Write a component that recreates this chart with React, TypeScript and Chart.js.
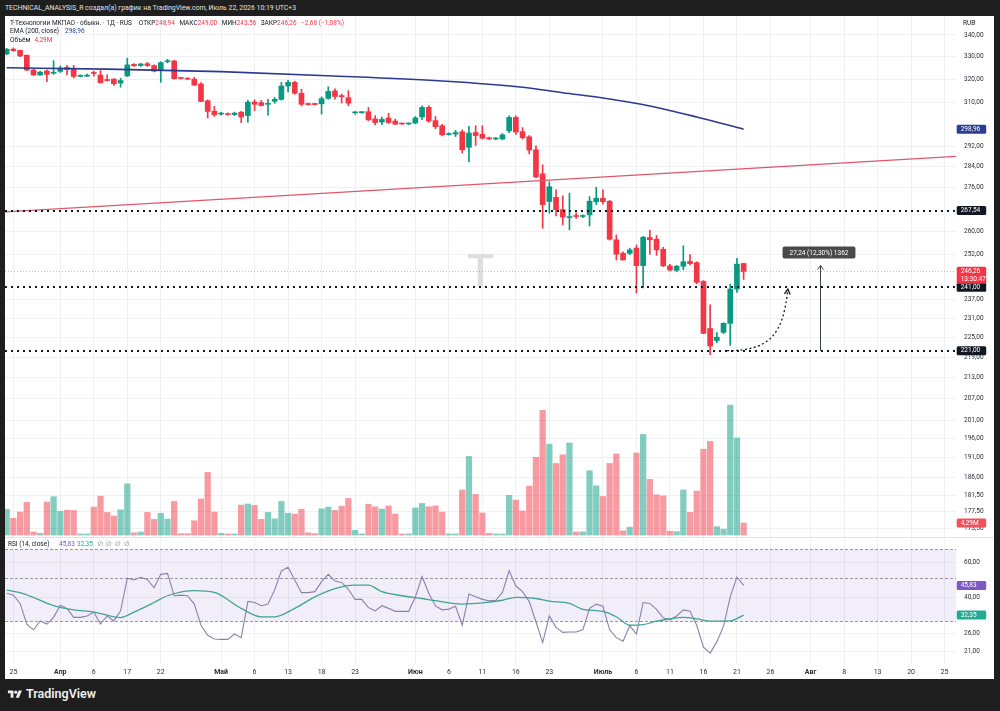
import React, { useEffect, useRef } from 'react';
import { Chart, registerables } from 'chart.js';
Chart.register(...registerables);

const FONT = 'Roboto, "Noto Sans", "DejaVu Sans", sans-serif';

// ---------------- data ----------------
const candleOpen = [331.3, 333.5, 332.9, 330.7, 324.1, 321.9, 323.7, 322.7, 323.5, 325.3,
  324.4, 321.3, 321.4, 323.0, 321.9, 319.8, 320.1, 318.4, 321.5, 326.6,
  326.1, 326.9, 326.1, 324.2, 327.8, 328.1, 320.6, 320.4, 320.1, 318.0,
  310.8, 306.4, 305.2, 305.3, 305.0, 306.0, 304.6, 310.3, 310.0, 309.3,
  310.6, 311.4, 317.1, 318.7, 314.0, 309.5, 309.4, 309.5, 311.8, 315.0,
  313.0, 312.1, 305.7, 305.8, 306.2, 303.2, 301.9, 303.6, 302.3, 301.2,
  301.1, 301.5, 304.0, 308.0, 302.5, 300.4, 296.8, 297.0, 297.9, 291.7,
  297.6, 296.9, 295.5, 295.0, 295.0, 298.3, 303.8, 298.0, 295.9, 290.7,
  281.3, 270.9, 272.4, 267.9, 265.0, 265.7, 265.4, 266.0, 270.8, 272.1,
  271.0, 257.1, 252.4, 252.4, 254.2, 248.2, 257.9, 257.3, 253.8, 248.1,
  246.6, 248.0, 249.6, 249.2, 242.9, 227.8, 224.1, 226.6, 229.4, 240.4,
  248.94];
const candleHigh = [333.9, 334.0, 333.1, 330.9, 324.4, 323.6, 324.2, 328.3, 325.9, 326.2,
  326.2, 322.0, 322.3, 323.6, 323.9, 322.0, 320.4, 320.5, 329.4, 327.0,
  327.1, 327.5, 326.4, 327.8, 328.9, 328.5, 320.9, 320.7, 320.9, 318.6,
  311.2, 308.4, 305.9, 305.7, 306.0, 306.3, 311.0, 311.2, 311.0, 311.4,
  312.2, 318.7, 319.6, 319.2, 315.7, 309.8, 309.7, 312.5, 316.8, 315.9,
  313.7, 315.1, 306.4, 306.3, 308.0, 304.6, 304.0, 305.5, 303.1, 301.5,
  301.5, 304.2, 308.7, 308.7, 304.2, 301.0, 297.5, 298.5, 298.7, 300.1,
  300.4, 300.4, 295.8, 295.6, 297.2, 304.5, 304.5, 299.6, 296.4, 292.3,
  284.8, 278.3, 275.2, 273.0, 274.0, 266.7, 266.0, 272.7, 276.2, 275.2,
  271.3, 258.8, 252.9, 254.2, 255.3, 258.3, 260.4, 258.6, 254.5, 248.6,
  248.3, 255.0, 252.0, 249.5, 243.2, 235.3, 226.5, 229.6, 242.0, 250.7,
  249.0];
const candleLow = [331.0, 332.5, 330.1, 323.8, 321.7, 321.8, 319.0, 322.2, 323.0, 321.9,
  320.6, 321.1, 321.3, 321.4, 318.3, 319.2, 317.4, 316.6, 321.3, 325.7,
  325.7, 325.7, 323.3, 318.7, 327.3, 320.1, 320.2, 319.9, 317.3, 310.4,
  303.6, 304.2, 304.8, 304.7, 304.6, 301.7, 301.9, 306.7, 308.5, 304.8,
  309.7, 311.0, 314.6, 313.6, 308.6, 308.9, 308.9, 305.2, 311.4, 311.5,
  309.8, 308.7, 305.2, 305.5, 302.5, 300.7, 300.8, 301.3, 300.9, 300.9,
  300.9, 301.2, 302.9, 301.8, 299.2, 296.2, 296.5, 296.0, 289.4, 285.9,
  292.4, 295.0, 294.8, 294.7, 294.7, 297.6, 296.8, 295.0, 289.1, 279.8,
  261.2, 266.6, 265.6, 262.4, 260.6, 264.7, 265.0, 262.0, 269.7, 269.9,
  257.0, 250.1, 250.1, 251.9, 239.1, 240.8, 252.1, 251.7, 247.9, 246.4,
  246.2, 246.8, 248.4, 242.1, 226.2, 219.8, 223.4, 226.2, 222.6, 239.3,
  243.56];
const candleClose = [333.4, 332.8, 330.4, 324.1, 321.9, 323.2, 322.2, 323.0, 325.0, 324.3,
  321.3, 321.5, 321.6, 322.6, 318.6, 319.5, 318.1, 319.5, 326.4, 326.0,
  326.8, 326.1, 323.6, 327.4, 328.1, 320.3, 320.4, 320.1, 317.5, 310.5,
  306.3, 304.9, 305.5, 305.0, 305.6, 304.0, 310.2, 309.3, 308.8, 309.6,
  311.4, 317.1, 318.7, 314.0, 309.3, 309.2, 309.2, 311.7, 314.8, 312.6,
  312.5, 309.8, 306.0, 306.0, 302.8, 301.7, 303.0, 301.7, 301.0, 301.1,
  301.3, 303.6, 308.0, 302.3, 300.0, 296.7, 297.1, 297.6, 290.7, 297.4,
  296.4, 295.3, 295.0, 295.4, 296.7, 303.8, 297.8, 295.5, 290.6, 280.1,
  269.7, 276.4, 267.9, 265.2, 265.3, 265.4, 265.7, 271.0, 272.1, 270.8,
  257.3, 252.1, 250.1, 253.6, 248.2, 258.0, 257.1, 253.6, 248.1, 246.7,
  248.0, 249.5, 248.9, 242.6, 226.3, 222.4, 225.1, 229.4, 240.4, 248.7,
  246.26];
const volumeM = [9.2, 6.0, 8.2, 11.7, 1.1, 0.6, 11.8, 13.7, 8.5, 8.9,
  8.8, 0.4, 0.4, 10.0, 13.9, 8.1, 6.8, 9.0, 18.3, 0.8,
  1.1, 8.1, 5.6, 7.8, 5.7, 12.0, 0.5, 0.5, 5.1, 12.9,
  22.4, 8.2, 0.6, 0.4, 0.4, 10.7, 11.1, 10.6, 5.6, 8.1,
  5.8, 12.0, 7.8, 7.5, 9.2, 0.8, 0.5, 9.4, 10.0, 8.8,
  10.3, 13.1, 1.7, 0.4, 11.0, 10.1, 9.3, 10.4, 7.5, 0.4,
  0.4, 9.7, 11.3, 10.1, 10.4, 8.2, 0.4, 0.4, 16.1, 28.1,
  14.5, 7.9, 0.6, 0.4, 0.4, 14.2, 12.5, 8.6, 17.5, 27.8,
  44.6, 32.5, 25.6, 28.7, 32.9, 1.1, 1.1, 23.0, 17.6, 13.8,
  25.6, 29.0, 1.5, 2.8, 29.3, 36.0, 19.9, 14.4, 14.0, 1.4,
  1.2, 16.1, 8.1, 15.7, 30.7, 33.5, 3.0, 2.1, 46.5, 34.7,
  4.29];
const rsiValues = [41.8, 40.9, 37.1, 29.1, 27.2, 30.2, 29.1, 31.5, 36.3, 35.0,
  31.5, 31.5, 32.0, 33.5, 29.1, 32.0, 30.2, 34.0, 49.9, 48.9,
  50.4, 49.2, 44.6, 52.2, 52.8, 40.6, 40.9, 40.6, 36.8, 28.7,
  25.5, 24.4, 24.3, 24.3, 25.9, 24.8, 38.0, 37.5, 36.1, 36.8,
  43.5, 54.3, 56.7, 48.9, 42.1, 42.1, 42.6, 47.9, 52.2, 48.3,
  47.5, 43.8, 38.9, 38.9, 35.3, 34.0, 36.1, 35.0, 33.8, 33.8,
  33.8, 40.0, 50.8, 41.8, 36.0, 34.4, 34.7, 35.9, 28.7, 41.4,
  40.1, 38.9, 38.3, 38.5, 42.2, 54.4, 45.5, 42.6, 37.9, 29.9,
  23.4, 32.0, 28.0, 26.4, 26.5, 26.5, 27.2, 35.0, 36.8, 35.9,
  27.2, 24.8, 23.8, 28.5, 25.9, 37.5, 37.1, 34.6, 31.3, 30.6,
  32.0, 34.4, 33.8, 28.7, 22.2, 20.7, 23.6, 28.4, 40.1, 50.6,
  45.83];
const rsiMaIdx = [0, 2, 4, 7, 10, 13, 16, 17, 19, 22, 24, 28, 31, 35, 38, 40, 43, 46, 49, 52, 54, 56, 59,
  62, 64, 68, 71, 74, 76, 79, 81, 84, 86, 89, 91, 93, 95, 97, 99, 101, 103, 105, 108, 110];
const rsiMaVal = [43.4, 42.1, 39.8, 36.1, 34.4, 33.5, 31.7, 31.4, 33.5, 37.5, 40.6, 43.1, 42.2, 35.0, 31.7, 31.7, 35.0, 40.1, 44.2, 46.0, 46.0, 42.6, 40.6,
  39.3, 38.3, 36.8, 37.3, 38.5, 39.8, 39.3, 38.1, 37.1, 34.6, 33.8, 31.7, 28.7, 28.9, 30.1, 30.9, 31.5, 30.9, 30.1, 30.2, 32.35];
const emaIdx = [0, 15, 32, 48, 65, 77, 83, 89, 96, 103, 110];
const emaVal = [325.1, 324.5, 323.4, 321.6, 319.3, 316.6, 314.2, 312.0, 308.6, 304.0, 298.96];
const trendIdx = [-0.25, 141.7];
const trendVal = [267.1, 288.1];
const levelLines = [267.54, 241.0, 221.0];
const measureIdx = 121.4;
const measureFrom = 221.0;
const measureTo = 248.24;
const measureLabel = '27,24 (12,30%) 1362';
const projIdx = [107.5, 113.9, 115.9, 116.6];
const projVal = [221.0, 221.0, 225.8, 240.4];
const countdown = '13:30:47';
const changeText = '−2,68 (−1,08%)';

const priceTicks = [340, 330, 320, 310, 292, 284, 276, 260, 252, 237, 231, 225, 219, 213, 207, 201, 196, 191, 186, 181.5, 177.5, 173.5];
const rsiTicks = [60, 40, 26, 21];
const rsiBands = [70, 50, 30];
const xTickIdx = [1, 8, 13, 18, 23, 32, 37, 42, 47, 52, 61, 66, 71, 76, 81, 89, 94, 99, 104, 109, 114, 120, 125, 130, 135, 140];
const xTickLabels = ['25', 'Апр', '6', '17', '22', 'Май', '6', '13', '18', '23', 'Июн', '6', '11', '16', '23', 'Июль', '6', '11', '16', '21', '26', 'Авг', '8', '13', '20', '25'];
const monthNames = ['Апр', 'Май', 'Июн', 'Июль', 'Авг'];

// view ranges
const X_MIN = -0.254, X_MAX = 141.7;
const PRICE_MIN = 171.4, PRICE_MAX = 348.9;
const VOL_MIN = -0.7, VOL_MAX = 185.6;
const RSI_MIN = 18.2, RSI_MAX = 79.1;

const UP = '#089981', DOWN = '#f23645';
const UP_V = 'rgba(8,153,129,0.5)', DOWN_V = 'rgba(242,54,69,0.5)';
const GRID = '#eef0f4';
const TXT = '#2a2e39';

const fmt = (v: number) => v.toFixed(2).replace('.', ',');
const xLabel = (v: number) => { const k = xTickIdx.indexOf(v); return k >= 0 ? xTickLabels[k] : ''; };

function drawTag(ctx: CanvasRenderingContext2D, x0: number, yc: number, lines: string[], bg: string) {
  const lh = 8;
  const h = lines.length * lh + 1;
  const top = lines.length === 1 ? yc - h / 2 : yc - lh / 2 - 0.5;
  ctx.fillStyle = bg;
  ctx.beginPath();
  (ctx as any).roundRect(x0, top, 29.5, h, 1.5);
  ctx.fill();
  ctx.fillStyle = '#ffffff';
  ctx.font = `6.5px ${FONT}`;
  ctx.textAlign = 'left';
  ctx.textBaseline = 'middle';
  lines.forEach((t, k) => ctx.fillText(t, x0 + 4, top + lh / 2 + 0.5 + k * lh));
}

const pricePlugin = {
  id: 'pricePane',
  beforeDatasetsDraw(chart: any) {
    const { ctx, chartArea: a } = chart;
    ctx.save();
    ctx.fillStyle = '#dedede';
    ctx.font = `500 44px ${FONT}`;
    ctx.textAlign = 'center';
    ctx.textBaseline = 'middle';
    ctx.fillText('T', (a.left + a.right) / 2, (a.top + a.bottom) / 2 - 2);
    ctx.restore();
  },
  afterDatasetsDraw(chart: any) {
    const { ctx, chartArea: a } = chart;
    const x = chart.scales.x, y = chart.scales.y;
    ctx.save();
    const last = candleClose[candleClose.length - 1];
    const yl = Math.round(y.getPixelForValue(last)) + 0.5;
    ctx.strokeStyle = 'rgba(242,54,69,0.45)';
    ctx.lineWidth = 1;
    ctx.setLineDash([1, 2]);
    ctx.beginPath(); ctx.moveTo(a.left, yl); ctx.lineTo(a.right, yl); ctx.stroke();
    ctx.strokeStyle = '#131722';
    ctx.lineWidth = 2;
    ctx.setLineDash([2, 4]);
    levelLines.forEach((v) => {
      const yy = Math.round(y.getPixelForValue(v));
      ctx.beginPath(); ctx.moveTo(a.left, yy); ctx.lineTo(a.right, yy); ctx.stroke();
    });
    const P = projIdx.map((ix, k) => [x.getPixelForValue(ix), y.getPixelForValue(projVal[k])]);
    ctx.lineWidth = 1.3;
    ctx.setLineDash([2, 2.5]);
    ctx.beginPath();
    ctx.moveTo(P[0][0], P[0][1]);
    ctx.bezierCurveTo(P[1][0], P[1][1], P[2][0], P[2][1], P[3][0], P[3][1]);
    ctx.stroke();
    ctx.setLineDash([]);
    const ang = Math.atan2(P[3][1] - P[2][1], P[3][0] - P[2][0]);
    ctx.beginPath();
    ctx.moveTo(P[3][0] - 6 * Math.cos(ang - 0.5), P[3][1] - 6 * Math.sin(ang - 0.5));
    ctx.lineTo(P[3][0], P[3][1]);
    ctx.lineTo(P[3][0] - 6 * Math.cos(ang + 0.5), P[3][1] - 6 * Math.sin(ang + 0.5));
    ctx.stroke();
    const mx = Math.round(x.getPixelForValue(measureIdx)) + 0.5;
    const y0 = y.getPixelForValue(measureFrom), y1 = y.getPixelForValue(measureTo);
    ctx.strokeStyle = '#3a3e48';
    ctx.lineWidth = 1;
    ctx.beginPath(); ctx.moveTo(mx, y0); ctx.lineTo(mx, y1); ctx.stroke();
    ctx.beginPath(); ctx.moveTo(mx - 3, y1 + 4); ctx.lineTo(mx, y1); ctx.lineTo(mx + 3, y1 + 4); ctx.stroke();
    ctx.font = `6.5px ${FONT}`;
    const tw = ctx.measureText(measureLabel).width;
    const bw = tw + 14, bh = 12;
    ctx.fillStyle = '#4a4a4a';
    ctx.beginPath();
    ctx.roundRect(mx - 1.5 - bw / 2, y1 - 7 - bh, bw, bh, 2);
    ctx.fill();
    ctx.fillStyle = '#ffffff';
    ctx.textAlign = 'center';
    ctx.textBaseline = 'middle';
    ctx.fillText(measureLabel, mx - 1.5, y1 - 7 - bh / 2 + 0.5);
    ctx.restore();
  },
  afterDraw(chart: any) {
    const { ctx } = chart;
    const y = chart.scales.y, yv = chart.scales.yv;
    const x0 = y.left + 0.7;
    ctx.save();
    drawTag(ctx, x0, y.getPixelForValue(emaVal[emaVal.length - 1]), [fmt(emaVal[emaVal.length - 1])], '#2c3e94');
    levelLines.forEach((v) => drawTag(ctx, x0, y.getPixelForValue(v), [fmt(v)], '#131722'));
    const last = candleClose[candleClose.length - 1];
    drawTag(ctx, x0, y.getPixelForValue(last), [fmt(last), countdown], '#f23645');
    const vl = volumeM[volumeM.length - 1];
    drawTag(ctx, x0, yv.getPixelForValue(vl), [fmt(vl) + 'M'], '#f0525c');
    ctx.restore();
  },
};

const rsiPlugin = {
  id: 'rsiPane',
  beforeDatasetsDraw(chart: any) {
    const { ctx, chartArea: a } = chart;
    const y = chart.scales.y;
    ctx.save();
    const yt = y.getPixelForValue(rsiBands[0]), yb = y.getPixelForValue(rsiBands[2]);
    ctx.fillStyle = 'rgba(126,87,194,0.1)';
    ctx.fillRect(a.left, yt, a.right - a.left, yb - yt);
    ctx.strokeStyle = '#9598a1';
    ctx.lineWidth = 1;
    ctx.setLineDash([3, 2]);
    rsiBands.forEach((v) => {
      const yy = Math.round(y.getPixelForValue(v)) + 0.5;
      ctx.beginPath(); ctx.moveTo(a.left, yy); ctx.lineTo(a.right, yy); ctx.stroke();
    });
    ctx.restore();
  },
  afterDraw(chart: any) {
    const { ctx } = chart;
    const y = chart.scales.y;
    const x0 = y.left + 0.7;
    ctx.save();
    const r = rsiValues[rsiValues.length - 1], m = rsiMaVal[rsiMaVal.length - 1];
    drawTag(ctx, x0, y.getPixelForValue(r), [fmt(r)], '#7e57c2');
    drawTag(ctx, x0, y.getPixelForValue(m), [fmt(m)], '#22ab94');
    ctx.restore();
  },
};

const T = (props: { x: number; y: number; size?: number; color?: string; weight?: number | string; children: any }) => {
  const fs = props.size ?? 6.5;
  return (
    <div style={{ position: 'absolute', left: props.x, top: props.y - fs / 2 - 0.5, fontSize: fs, lineHeight: `${fs + 1}px`, color: props.color ?? '#131722', fontWeight: props.weight ?? 400, whiteSpace: 'nowrap', fontFamily: FONT }}>
      {props.children}
    </div>
  );
};

export default function App() {
  const c1 = useRef<HTMLCanvasElement>(null);
  const c2 = useRef<HTMLCanvasElement>(null);

  useEffect(() => {
    document.body.style.margin = '0';
    document.body.style.background = '#1e1e1e';
    Chart.defaults.font.family = FONT;
    const idx = candleOpen.map((_, i) => i);
    const candleColors = idx.map((i) => (candleClose[i] >= candleOpen[i] ? UP : DOWN));
    const volColors = idx.map((i) => (candleClose[i] >= candleOpen[i] ? UP_V : DOWN_V));

    const ch1 = new Chart(c1.current as HTMLCanvasElement, {
      type: 'bar',
      data: {
        datasets: [
          { type: 'line', label: 'EMA', data: emaIdx.map((v, k) => ({ x: v, y: emaVal[k] })), borderColor: '#2b3990', borderWidth: 1.6, pointRadius: 0, cubicInterpolationMode: 'monotone', yAxisID: 'y', order: 1 } as any,
          { type: 'line', label: 'Trend', data: trendIdx.map((v, k) => ({ x: v, y: trendVal[k] })), borderColor: '#e0566a', borderWidth: 1.3, pointRadius: 0, yAxisID: 'y', order: 0 } as any,
          { type: 'bar', label: 'Wicks', data: idx.map((i) => ({ x: i, y: [candleLow[i], candleHigh[i]] })), backgroundColor: candleColors, barThickness: 1, grouped: false, yAxisID: 'y', order: 3 } as any,
          { type: 'bar', label: 'Bodies', data: idx.map((i) => ({ x: i, y: [candleOpen[i], candleClose[i]] })), backgroundColor: candleColors, barThickness: 5, minBarLength: 1, grouped: false, yAxisID: 'y', order: 2 } as any,
          { type: 'bar', label: 'Volume', data: idx.map((i) => ({ x: i, y: volumeM[i] })), backgroundColor: volColors, barThickness: 5.6, grouped: false, yAxisID: 'yv', order: 4 } as any,
        ],
      },
      options: {
        animation: false,
        responsive: false,
        maintainAspectRatio: false,
        events: [],
        layout: { padding: 0 },
        plugins: { legend: { display: false }, tooltip: { enabled: false } },
        scales: {
          x: {
            type: 'linear', min: X_MIN, max: X_MAX, offset: false, bounds: 'data',
            grid: { color: GRID, drawTicks: false, offset: false },
            border: { display: false },
            ticks: { display: false },
            afterBuildTicks: (s: any) => { s.ticks = xTickIdx.map((v) => ({ value: v })); },
            afterFit: (s: any) => { s.height = 0; s.paddingLeft = 0; s.paddingRight = 0; },
          } as any,
          y: {
            type: 'logarithmic', position: 'right', min: PRICE_MIN, max: PRICE_MAX, bounds: 'data',
            grid: { color: GRID, drawTicks: false },
            border: { display: false },
            ticks: { autoSkip: false, padding: 8, color: TXT, font: { size: 6.5, family: FONT }, callback: (v: any) => fmt(Number(v)) },
            afterBuildTicks: (s: any) => { s.ticks = priceTicks.map((v) => ({ value: v })); },
            afterFit: (s: any) => { s.width = 38; s.paddingTop = 0; s.paddingBottom = 0; },
          } as any,
          yv: { type: 'linear', display: false, min: VOL_MIN, max: VOL_MAX, beginAtZero: false } as any,
        },
      },
      plugins: [pricePlugin as any],
    });

    const ch2 = new Chart(c2.current as HTMLCanvasElement, {
      type: 'line',
      data: {
        datasets: [
          { label: 'RSI', data: idx.map((i) => ({ x: i, y: rsiValues[i] })), borderColor: '#8b80ad', borderWidth: 1.1, pointRadius: 0, tension: 0, order: 1 } as any,
          { label: 'RSI MA', data: rsiMaIdx.map((v, k) => ({ x: v, y: rsiMaVal[k] })), borderColor: '#41a394', borderWidth: 1.3, pointRadius: 0, cubicInterpolationMode: 'monotone', order: 0 } as any,
        ],
      },
      options: {
        animation: false,
        responsive: false,
        maintainAspectRatio: false,
        events: [],
        layout: { padding: { top: 1, left: 0, right: 0, bottom: 0 } },
        plugins: { legend: { display: false }, tooltip: { enabled: false } },
        scales: {
          x: {
            type: 'linear', min: X_MIN, max: X_MAX, bounds: 'data',
            grid: { color: GRID, drawTicks: false },
            border: { display: false },
            ticks: {
              autoSkip: false, maxRotation: 0, padding: 4, color: TXT,
              font: (c: any) => ({ size: 7, family: FONT, weight: monthNames.includes(xLabel(c.tick ? c.tick.value : -1)) ? 'bold' : 'normal' }),
              callback: (v: any) => xLabel(Number(v)),
            },
            afterBuildTicks: (s: any) => { s.ticks = xTickIdx.map((v) => ({ value: v })); },
            afterFit: (s: any) => { s.height = 15; s.paddingLeft = 0; s.paddingRight = 0; },
          } as any,
          y: {
            type: 'logarithmic', position: 'right', min: RSI_MIN, max: RSI_MAX, bounds: 'data',
            grid: { color: GRID, drawTicks: false },
            border: { display: false },
            ticks: { autoSkip: false, padding: 8, color: TXT, font: { size: 6.5, family: FONT }, callback: (v: any) => fmt(Number(v)) },
            afterBuildTicks: (s: any) => { s.ticks = rsiTicks.map((v) => ({ value: v })); },
            afterFit: (s: any) => { s.width = 38; s.paddingTop = 0; s.paddingBottom = 0; },
          } as any,
        },
      },
      plugins: [rsiPlugin as any],
    });

    return () => { ch1.destroy(); ch2.destroy(); };
  }, []);

  const red = '#f23645';
  const legendItems: [string, string][] = [
    ['ОТКР', fmt(candleOpen[110])],
    ['МАКС', fmt(candleHigh[110])],
    ['МИН', fmt(candleLow[110])],
    ['ЗАКР', fmt(candleClose[110])],
  ];
  return (
    <div style={{ position: 'relative', width: 1000, height: 711, background: '#1e1e1e', overflow: 'hidden', fontFamily: FONT }}>
      <T x={5} y={8.5} color="#e3e3e3" size={6.9}>TECHNICAL_ANALYSIS_R создал(а) график на TradingView.com, Июль 22, 2026 10:19 UTC+3</T>
      <div style={{ position: 'absolute', left: 5, top: 16, width: 989, height: 663, background: '#ffffff' }} />
      <canvas ref={c1} width={989} height={521} style={{ position: 'absolute', left: 5, top: 16, width: 989, height: 521 }} />
      <div style={{ position: 'absolute', left: 5, top: 537, width: 989, height: 1, background: '#e0e3eb' }} />
      <canvas ref={c2} width={989} height={141} style={{ position: 'absolute', left: 5, top: 538, width: 989, height: 141 }} />

      <div style={{ position: 'absolute', left: 10, top: 18.5, display: 'flex', alignItems: 'center', fontSize: 6.5, lineHeight: '8px', whiteSpace: 'nowrap', color: '#131722', fontFamily: FONT }}>
        <span style={{ marginRight: 7 }}>Т-Технологии МКПАО · обыкн. · 1Д · RUS</span>
        {legendItems.map(([k, v]) => (
          <span key={k} style={{ marginRight: 4.5 }}>{k}<span style={{ color: red }}>{v}</span></span>
        ))}
        <span style={{ color: red }}>{changeText}</span>
      </div>
      <T x={10} y={32}>EMA (200, close)</T><T x={65} y={32} color="#2c3e94">{fmt(emaVal[emaVal.length - 1])}</T>
      <T x={10} y={41}>Объём</T><T x={34.5} y={41} color={red}>{fmt(volumeM[110])}M</T>
      <T x={963} y={24}>RUB</T>

      <T x={8} y={545}>RSI (14, close)</T>
      <T x={59} y={545} color="#7e57c2">{fmt(rsiValues[110])}</T>
      <T x={77} y={545} color="#22ab94">{fmt(rsiMaVal[rsiMaVal.length - 1])}</T>
      <T x={97.5} y={545} color="#787b86">∅</T>
      <T x={106} y={545} color="#787b86">∅</T>
      <T x={115} y={545} color="#787b86">∅</T>
      <T x={124} y={545} color="#787b86">∅</T>

      <svg style={{ position: 'absolute', left: 7, top: 689 }} width={16} height={11} viewBox="0 0 36 28">
        <path d="M14 22H7V11H0V4h14v18zM28 22h-8l7.5-18h8L28 22z" fill="#f0f0f0" />
        <circle cx="20" cy="8" r="4" fill="#f0f0f0" />
      </svg>
      <T x={26} y={694} size={12.5} color="#f0f0f0" weight={600}>TradingView</T>
    </div>
  );
}
